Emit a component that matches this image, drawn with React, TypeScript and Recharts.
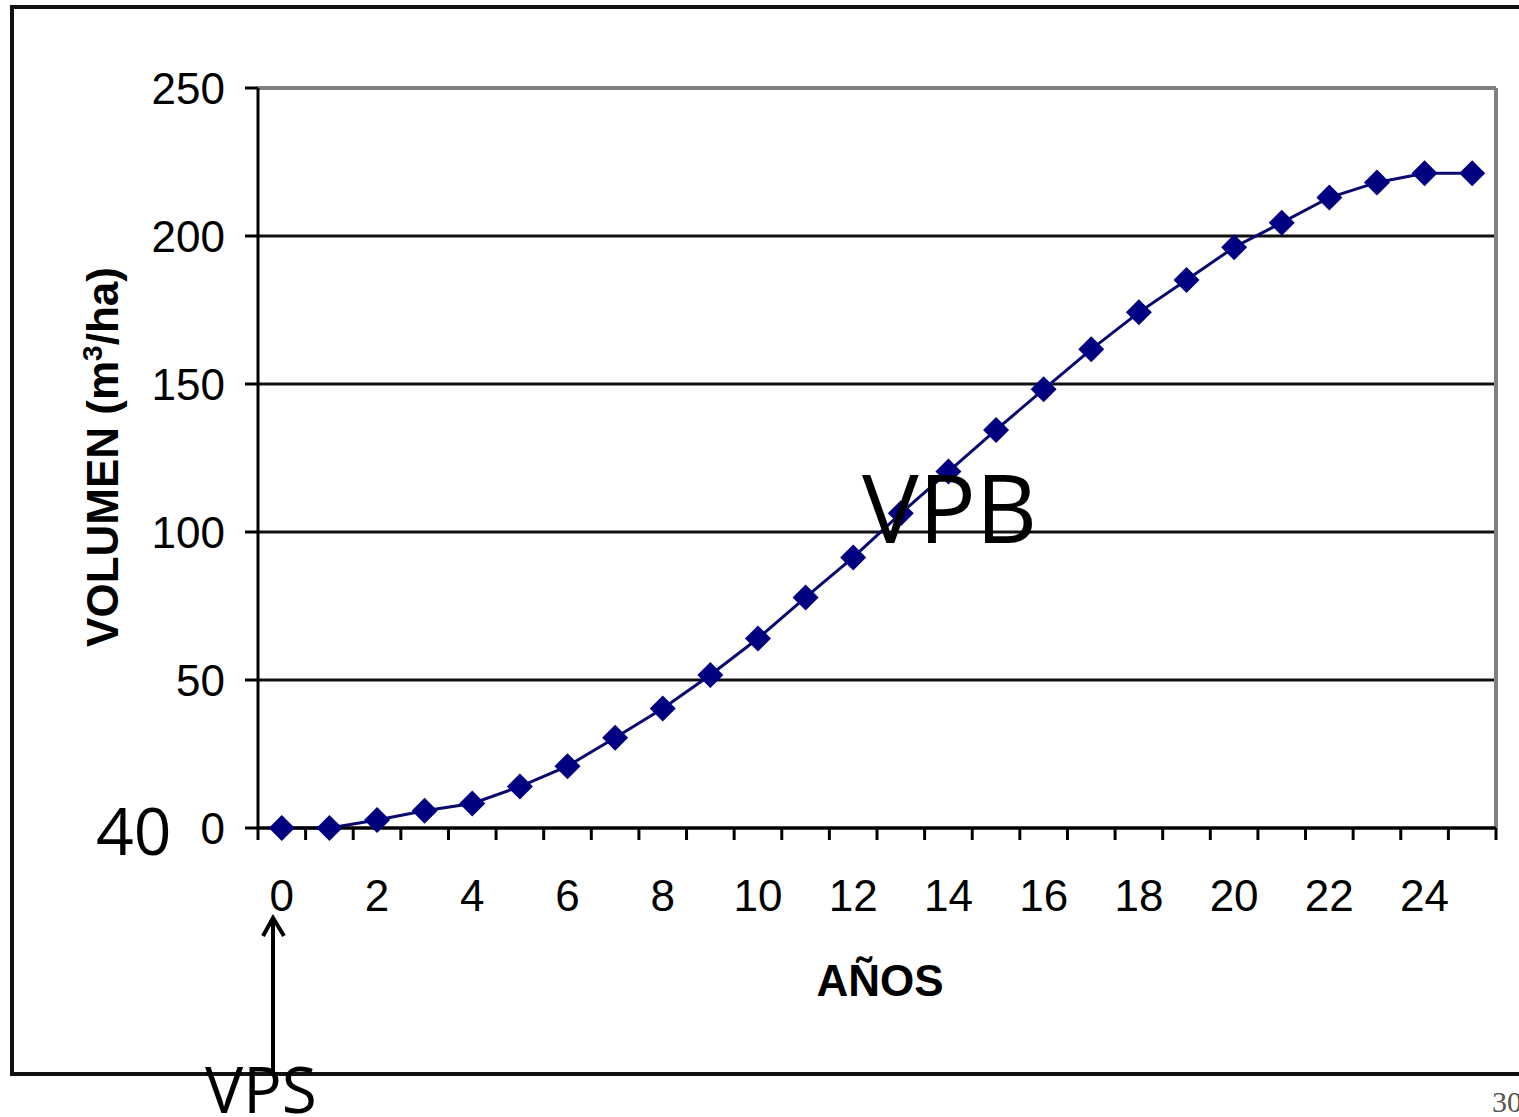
import React from 'react';
import { LineChart, Line, XAxis, YAxis, CartesianGrid, ReferenceLine } from 'recharts';

const years = [0, 1, 2, 3, 4, 5, 6, 7, 8, 9, 10, 11, 12, 13, 14, 15, 16, 17, 18, 19, 20, 21, 22, 23, 24, 25];
const volume = [0, 0, 2.7, 5.8, 8.3, 14, 20.9, 30.5, 40.4, 51.7, 64, 77.9, 91.4, 106.3, 120.4, 134.5, 148.2, 161.7, 174.2, 185.1, 196.2, 204.5, 213, 218.1, 221.2, 221.2];
const yTicks = [0, 50, 100, 150, 200, 250];
const xTickLabels = [0, 2, 4, 6, 8, 10, 12, 14, 16, 18, 20, 22, 24];

const data = years.map((y, i) => ({ year: y, volume: volume[i] }));
const xBoundaries = [...years.map((y) => y - 0.5), years[years.length - 1] + 0.5];
const xTicks = [...xBoundaries, ...xTickLabels].sort((a, b) => a - b);

const FONT = '"Liberation Sans", Arial, sans-serif';

const XTick = (props: any) => {
  const { x, y, payload } = props;
  const v = payload.value;
  if (!Number.isInteger(v)) {
    return <line x1={x} y1={y} x2={x} y2={y + 12} stroke="#000" strokeWidth={3} />;
  }
  return (
    <text x={x} y={y + 83} textAnchor="middle" fontSize={44} fill="#000" fontFamily={FONT}>
      {v}
    </text>
  );
};

const Diamond = (props: any) => {
  const { cx, cy, index } = props;
  if (cx == null || cy == null) return null;
  const r = 13;
  return (
    <polygon
      key={`d-${index}`}
      points={`${cx},${cy - r} ${cx + r},${cy} ${cx},${cy + r} ${cx - r},${cy}`}
      fill="#000080"
    />
  );
};

const XTitle = (props: any) => {
  const vb = props.viewBox || { x: 258, y: 828, width: 1238 };
  return (
    <text x={vb.x + vb.width / 2 + 3} y={vb.y + 168} textAnchor="middle" fontSize={44} fontWeight="bold" fill="#000" fontFamily={FONT}>
      AÑOS
    </text>
  );
};

const YTitle = (props: any) => {
  const vb = props.viewBox || { x: 0, y: 88, width: 258, height: 740 };
  const cx = 118;
  const cy = vb.y + vb.height / 2 - 1;
  return (
    <text
      x={cx}
      y={cy}
      transform={`rotate(-90 ${cx} ${cy})`}
      textAnchor="middle"
      fontSize={44}
      fontWeight="bold"
      fill="#000"
      fontFamily={FONT}
    >
      VOLUMEN (m
      <tspan fontSize={28} dy={-16}>3</tspan>
      <tspan dy={16}>/ha)</tspan>
    </text>
  );
};

export default function App() {
  return (
    <div style={{ position: 'absolute', left: 0, top: 0, width: 1519, height: 1117, overflow: 'hidden', background: '#fff', fontFamily: FONT }}>
      <LineChart width={1519} height={1117} data={data} margin={{ top: 88, right: 23, bottom: 0, left: 0 }}>
        <CartesianGrid vertical={false} stroke="#111" strokeWidth={3} />
        <XAxis
          type="number"
          dataKey="year"
          domain={[-0.5, 25.5]}
          ticks={xTicks}
          interval={0}
          tick={<XTick />}
          tickLine={false}
          tickSize={0}
          tickMargin={0}
          axisLine={{ stroke: '#000', strokeWidth: 3 }}
          height={289}
          allowDataOverflow
          label={(p: any) => <XTitle {...p} />}
        />
        <YAxis
          domain={[0, 250]}
          ticks={yTicks}
          interval={0}
          width={258}
          tickSize={13}
          tickMargin={20}
          tickLine={{ stroke: '#000', strokeWidth: 3 }}
          axisLine={{ stroke: '#000', strokeWidth: 3 }}
          tick={{ fontSize: 44, fill: '#000', fontFamily: FONT }}
          label={(p: any) => <YTitle {...p} />}
        />
        <ReferenceLine y={250} stroke="#808080" strokeWidth={4} />
        <ReferenceLine x={25.5} stroke="#808080" strokeWidth={4} />
        <Line
          type="linear"
          dataKey="volume"
          stroke="#0a0a6e"
          strokeWidth={3}
          dot={<Diamond />}
          activeDot={false}
          isAnimationActive={false}
        />
      </LineChart>
      <svg width={1519} height={1117} style={{ position: 'absolute', left: 0, top: 0, pointerEvents: 'none' }}>
        <line x1={12} y1={7} x2={1519} y2={7} stroke="#111" strokeWidth={4} />
        <line x1={12} y1={5} x2={12} y2={1076} stroke="#111" strokeWidth={4} />
        <line x1={10} y1={1074} x2={1519} y2={1074} stroke="#111" strokeWidth={4} />
        <text x={96} y={855} fontSize={66} fill="#000" fontFamily='"Open Sans", sans-serif'>40</text>
        <text x={862} y={543} fontSize={95} fill="#000" fontFamily='"Open Sans", sans-serif'>VPB</text>
        <text x={205} y={1113} fontSize={64} fill="#000" fontFamily='"Open Sans", sans-serif'>VPS</text>
        <line x1={273} y1={1072} x2={273} y2={918} stroke="#000" strokeWidth={4} />
        <polyline points="263,936 273,918 284,936" fill="none" stroke="#000" strokeWidth={4} />
        <text x={1492} y={1112} fontSize={30} fill="#555" fontFamily='"Liberation Serif", serif'>30</text>
      </svg>
    </div>
  );
}
